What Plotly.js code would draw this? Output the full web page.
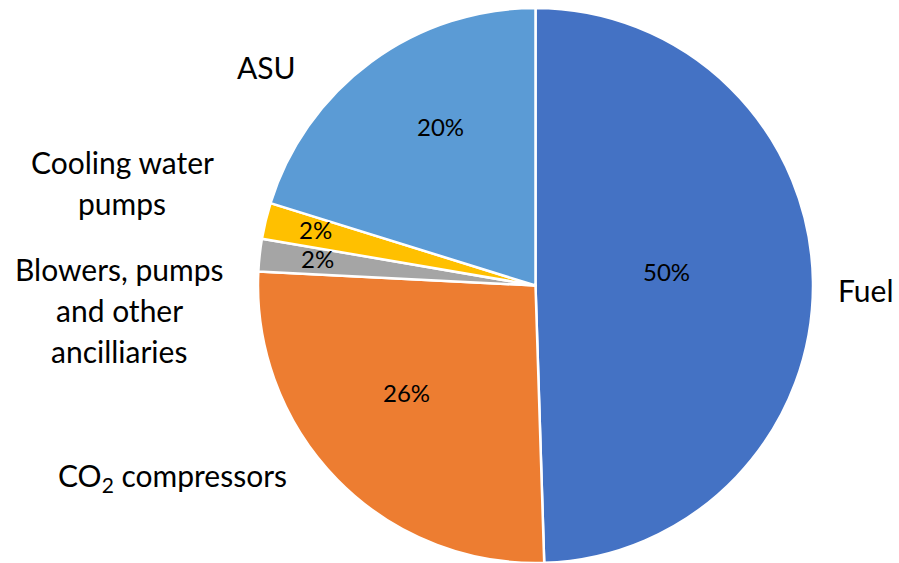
<!DOCTYPE html>
<html>
<head>
<meta charset="utf-8">
<script src="https://cdn.plot.ly/plotly-3.0.1.min.js"></script>
<style>html,body{margin:0;padding:0;background:#fff;}#chart{width:899px;height:563px;}</style>
</head>
<body>
<div id="chart"></div>
<script>
// ---- data ----
const categories = ["Fuel", "CO2 compressors", "Blowers, pumps and other ancilliaries", "Cooling water pumps", "ASU"];
const values = [49.5, 26.3, 1.9, 2.1, 20.2];
const colors = ["#4472C4", "#ED7D31", "#A5A5A5", "#FFC000", "#5B9BD5"];
// display lines of the outside labels
const labelLines = [
  ["Fuel"],
  ["CO<sub>2</sub> compressors"],
  ["Blowers, pumps", "and other", "ancilliaries"],
  ["Cooling water", "pumps"],
  ["ASU"]
];

// ---- layout / style ----
const W = 899, H = 563;
const cx = 535.5, cy = 285.5, R = 277.5;
const labelPos = [[866, 290], [172, 477], [119, 269], [122, 162], [266, 67]]; // pixel centre of first line
const lineGap = 41;
const pctRadius = [0.475, 0.61, 0.79, 0.815, 0.66];
const pctAngleShift = [-4, 4, 0, 0, 5]; // degrees
const FONT = "Lato, 'Liberation Sans', sans-serif";

const total = values.reduce((a, b) => a + b, 0);
const annotations = [];
let cum = 0;
values.forEach((v, i) => {
  const mid = (cum + v / 2) / total * 2 * Math.PI + pctAngleShift[i] * Math.PI / 180;
  cum += v;
  const d = pctRadius[i] * R;
  const px = cx + d * Math.sin(mid), py = cy - d * Math.cos(mid) - 3;
  annotations.push({
    xref: 'paper', yref: 'paper', x: px / W, y: 1 - py / H,
    xanchor: 'center', yanchor: 'middle', showarrow: false,
    text: Math.round(v / total * 100) + '%',
    font: {family: FONT, size: 24, color: '#000'}
  });
  labelLines[i].forEach((t, k) => {
    annotations.push({
      xref: 'paper', yref: 'paper', x: labelPos[i][0] / W, y: 1 - (labelPos[i][1] + k * lineGap) / H,
      xanchor: 'center', yanchor: 'middle', showarrow: false,
      text: t,
      font: {family: FONT, size: 30, color: '#000'}
    });
  });
});

const trace = {
  type: 'pie',
  labels: categories,
  values: values,
  sort: false,
  direction: 'clockwise',
  rotation: 0,
  textinfo: 'none',
  hoverinfo: 'label+percent',
  marker: {colors: colors, line: {color: '#ffffff', width: 2.5}},
  domain: {x: [(cx - R) / W, (cx + R) / W], y: [(H - cy - R) / H, (H - cy + R) / H]}
};

Plotly.newPlot('chart', [trace], {
  width: W, height: H,
  margin: {l: 0, r: 0, t: 0, b: 0},
  paper_bgcolor: '#fff',
  showlegend: false,
  annotations: annotations
}, {displayModeBar: false, staticPlot: true});
</script>
</body>
</html>
